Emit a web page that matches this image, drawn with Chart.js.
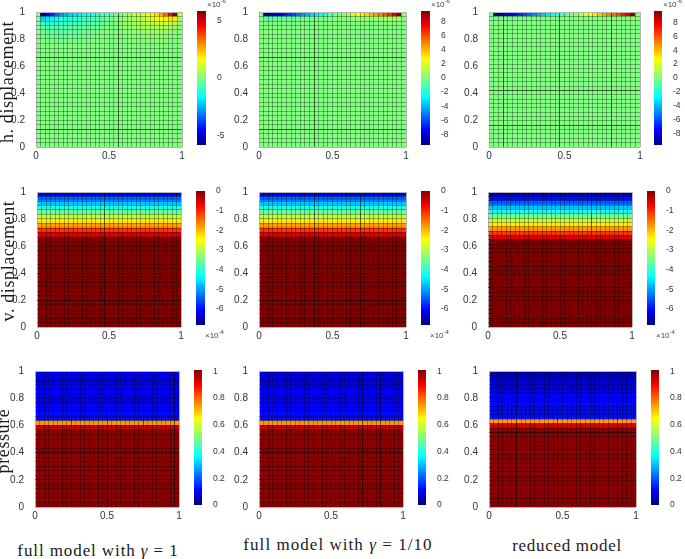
<!DOCTYPE html>
<html>
<head>
<meta charset="utf-8">
<title>Displacement and pressure fields</title>
<script src="https://cdn.jsdelivr.net/npm/chart.js@4"></script>
<style>
  html, body { margin: 0; background: #fff; }
  #page { position: relative; width: 685px; height: 559px; overflow: hidden; }
  canvas { position: absolute; filter: blur(0.35px); }
  .row-label, .caption { position: absolute; font-family: "Liberation Serif", serif; color: #1a1a1a; white-space: nowrap; }
  .row-label { font-size: 18px; letter-spacing: 0.6px; transform: translate(-50%, -50%) rotate(-90deg); }
  .caption { font-size: 17px; letter-spacing: 0.9px; transform: translate(-50%, -50%); }
  .mult { position: absolute; font: 8px "Liberation Sans", sans-serif; color: #444; white-space: nowrap; }
  .mult sup { font-size: 6px; line-height: 0; }
</style>
</head>
<body>
<div id="page"></div>
<script>
// ─── Data ─────────────────────────────────────────────────────────────────────
const COLS = 32;
const yTicks = [0, 0.2, 0.4, 0.6, 0.8, 1];
const xTicks = [0, 0.5, 1];

// h. displacement, top rows only (x 1e-6), everything below is 0
const hFullA = [
  [0.3,-5.8,-5,-4.2,-3.4,-2.9,-2.5,-2.2,-2,-1.8,-1.6,-1.4,-1.2,-1,-0.8,-0.6,-0.4,-0.2,0,0.3,0.5,0.7,0.9,1.2,1.4,1.7,2,2.6,3.4,4.4,5.8,0.9],
  [0,-2.2,-1.9,-1.7,-1.5,-1.4,-1.3,-1.2,-1.1,-1,-0.9,-0.8,-0.7,-0.6,-0.5,-0.3,-0.2,0,0.1,0.2,0.4,0.5,0.6,0.8,1,1.2,1.4,1.6,1.8,2,1.9,0.5],
  [0,-0.9,-1,-1,-1,-0.9,-0.9,-0.8,-0.8,-0.7,-0.6,-0.6,-0.5,-0.4,-0.3,-0.2,-0.1,0,0.1,0.2,0.3,0.4,0.5,0.6,0.7,0.8,0.9,1,1,0.9,0.7,0.2],
  [0,-0.4,-0.6,-0.7,-0.7,-0.7,-0.6,-0.6,-0.5,-0.5,-0.4,-0.4,-0.3,-0.3,-0.2,-0.1,0,0,0.1,0.2,0.2,0.3,0.4,0.4,0.5,0.6,0.6,0.6,0.5,0.5,0.3,0.1],
  [0,-0.2,-0.3,-0.4,-0.5,-0.5,-0.4,-0.4,-0.4,-0.3,-0.3,-0.2,-0.2,-0.1,-0.1,0,0,0,0.1,0.1,0.2,0.2,0.2,0.3,0.3,0.4,0.4,0.4,0.3,0.2,0.1,0],
  [0,-0.1,-0.2,-0.2,-0.3,-0.3,-0.3,-0.2,-0.2,-0.2,-0.2,-0.1,-0.1,-0.1,0,0,0,0,0,0.1,0.1,0.1,0.1,0.2,0.2,0.2,0.2,0.2,0.2,0.1,0.1,0],
  [0,0,-0.1,-0.1,-0.1,-0.2,-0.1,-0.1,-0.1,-0.1,-0.1,-0.1,0,0,0,0,0,0,0,0,0.1,0.1,0.1,0.1,0.1,0.1,0.1,0.1,0.1,0.1,0,0]
];
const hFullB = [
  [0,-9.3,-8.8,-8.3,-7.8,-7.2,-6.6,-6,-5.3,-4.7,-4.1,-3.5,-3,-2.5,-1.8,-1,-0.5,0,0.5,1,1.8,2.4,3,3.5,4,4.6,5.1,5.8,6.6,7.6,9.3,0],
  [0,-0.9,-0.8,-0.8,-0.7,-0.7,-0.6,-0.6,-0.5,-0.5,-0.4,-0.3,-0.3,-0.2,-0.2,-0.1,0,0,0.1,0.2,0.2,0.3,0.4,0.5,0.6,0.7,0.7,0.8,0.8,0.9,0.9,0.1]
];
const hReduced = [
  [0,-9.6,-9,-8.5,-8,-7.4,-6.8,-6.2,-5.6,-5,-4.4,-3.8,-3.2,-2.6,-2,-1.3,-0.7,0,0.6,1.2,1.9,2.6,3.2,3.8,4.4,5,5.6,6.2,7,8,9.6,0],
  [0,-0.3,-0.3,-0.3,-0.3,-0.2,-0.2,-0.2,-0.2,-0.2,-0.1,-0.1,-0.1,-0.1,0,0,0,0,0,0,0.1,0.1,0.1,0.1,0.2,0.2,0.2,0.2,0.2,0.3,0.3,0]
];

// v. displacement, one value per row from the top (x 1e-4), everything below is 0
const vFullA = [-6.12,-5.44,-4.76,-4.2,-3.6,-3,-2.3,-1.77,-1.09,-0.54];
const vFullB = [-6.2,-5.44,-4.76,-4.2,-3.6,-3,-2.3,-1.77,-1.09,-0.54];
const vReduced = [-6.55,-6,-5.46,-4.77,-4.23,-3.61,-3,-2.32,-1.77,-1.09,-0.55];

// pressure, one value per row from the top, everything below is 1
const pFullA = [0.09,0.09,0.09,0.1,0.1,0.1,0.1,0.11,0.11,0.12,0.12,0.75,0.95];
const pFullB = [0.07,0.08,0.09,0.09,0.1,0.1,0.11,0.11,0.11,0.12,0.12,0.75,0.95];
const pReduced = [0.03,0.05,0.07,0.09,0.1,0.11,0.11,0.12,0.12,0.12,0.12,0.74,0.93];

// colorbar ticks
const hTicksA = [-5, 0, 5];
const hTicksB = [-8, -6, -4, -2, 0, 2, 4, 6, 8];
const vTicks = [-6, -5, -4, -3, -2, -1, 0];
const pTicks = [0, 0.2, 0.4, 0.6, 0.8, 1];

// mesh lines that read darker in the picture
const darkRowsH = [0.667, 0.133];
const darkColsH = [0.5625];
const darkRowsRed = [0.4, 0.2];
const darkColsA = [0.25, 0.5, 0.75, 0.96875];
const darkColsB = [0.0938, 0.4688, 0.8125];
const darkRowsB = [0.42, 0.161];

const jetStops = [
  [0, 0, 0, 128], [0.11, 0, 0, 255], [0.36, 0, 255, 255], [0.5, 128, 255, 128],
  [0.64, 255, 255, 0], [0.89, 255, 0, 0], [1, 128, 0, 0]
];

// ─── Layout: plot box and colorbar box for each panel ─────────────────────────
const panels = [
  { rows: hFullA, rowCount: 30, rest: 0, range: [-5.83, 5.83], ticks: hTicksA, box: [36, 11, 146, 136], bar: [197, 206], darkRows: darkRowsH, darkCols: darkColsH },
  { rows: hFullB, rowCount: 30, rest: 0, range: [-9.49, 9.49], ticks: hTicksB, box: [259, 11, 147, 136], bar: [421, 430], darkRows: darkRowsH, darkCols: [0.375] },
  { rows: hReduced, rowCount: 31, rest: 0, range: [-9.66, 9.66], ticks: hTicksB, box: [489, 11, 151, 136], bar: [654, 662], darkRows: darkRowsB, darkCols: darkColsB },
  { rows: vFullA, rowCount: 30, rest: 0, range: [-6.82, 0], ticks: vTicks, box: [37, 191, 144, 136], bar: [196, 205], darkRows: darkRowsRed, darkCols: [0.47] },
  { rows: vFullB, rowCount: 30, rest: 0, range: [-6.82, 0], ticks: vTicks, box: [259, 191, 147, 136], bar: [421, 430], darkRows: darkRowsRed, darkCols: [0.375, 0.69] },
  { rows: vReduced, rowCount: 31, rest: 0, range: [-6.82, 0], ticks: vTicks, box: [488, 191, 144, 136], bar: [647, 655], darkRows: [0.29], darkCols: [0.72] },
  { rows: pFullA, rowCount: 30, rest: 1, range: [0, 1.01], ticks: pTicks, box: [35, 370, 144, 137], bar: [194, 202], darkRows: darkRowsRed, darkCols: darkColsA },
  { rows: pFullB, rowCount: 30, rest: 1, range: [0, 1.01], ticks: pTicks, box: [259, 370, 144, 137], bar: [418, 426], darkRows: darkRowsRed, darkCols: [0.72, 0.84] },
  { rows: pReduced, rowCount: 31, rest: 1, range: [0, 1.01], ticks: pTicks, box: [489, 370, 147, 137], bar: [651, 659], darkRows: [0.55, 0.29], darkCols: [0.19, 0.47, 0.875] }
];

const rowLabels = [
  ['h. displacement', 7, 82],
  ['v. displacement', 8, 261],
  ['pressure', 3, 441]
];
const multipliers = [
  ['-6', 207, 0], ['-6', 431, 0], ['-6', 663, 0],
  ['-4', 205, 331], ['-4', 430, 331], ['-4', 656, 331]
];

const page = document.getElementById('page');
const TICK_FONT = { family: '"Liberation Sans", sans-serif', size: 10 };
const BAR_FONT = { family: '"Liberation Sans", sans-serif', size: 8.5 };

function jet(t) {
  t = Math.min(1, Math.max(0, t));
  for (let i = 1; i < jetStops.length; i++) {
    const a = jetStops[i - 1], b = jetStops[i];
    if (t <= b[0]) {
      const f = (t - a[0]) / (b[0] - a[0]);
      return `rgb(${[1, 2, 3].map(k => Math.round(a[k] + (b[k] - a[k]) * f)).join(',')})`;
    }
  }
  return 'rgb(128,0,0)';
}

function addCanvas(x, y, w, h) {
  const c = document.createElement('canvas');
  c.width = w; c.height = h;
  c.style.left = x + 'px'; c.style.top = y + 'px';
  page.appendChild(c);
  return c.getContext('2d');
}

function rowValues(p, r) {
  const row = p.rows[r];
  if (Array.isArray(row)) return row;
  const v = row === undefined ? p.rest : row;
  return new Array(COLS).fill(v);
}

// frame is light grey, mesh is faint, a few lines darker
function gridColor(dark, spacing) {
  return ctx => {
    const v = ctx.tick.value;
    if (v < 0.001 || v > 0.999) return '#b4b4b4';
    return dark.some(d => Math.abs(d - v) < spacing / 2) ? 'rgba(0,0,0,0.6)' : 'rgba(0,0,0,0.3)';
  };
}

// ─── Field plot: one stacked bar dataset per row ──────────────────────────────
function drawField(p) {
  const [bx, by, bw, bh] = p.box;
  const [lo, hi] = p.range;
  const left = 30, top = 8, right = 8, bottom = 20;
  const xCenters = Array.from({ length: COLS }, (_, i) => (i + 0.5) / COLS);
  const datasets = [];
  for (let r = p.rowCount - 1; r >= 0; r--) {
    const vals = rowValues(p, r);
    datasets.push({
      stack: 'field',
      data: xCenters.map(x => ({ x, y: 1 / p.rowCount })),
      backgroundColor: vals.map(v => jet((v - lo) / (hi - lo))),
      barPercentage: 1,
      categoryPercentage: 1,
      borderWidth: 0
    });
  }
  new Chart(addCanvas(bx - left, by - top, bw + left + right, bh + top + bottom), {
    type: 'bar',
    data: { datasets },
    options: {
      responsive: false,
      animation: false,
      layout: { padding: { top, right } },
      plugins: { legend: { display: false }, tooltip: { enabled: false } },
      scales: {
        x: {
          type: 'linear', min: 0, max: 1, offset: false,
          grid: { offset: false, z: 1, color: gridColor(p.darkCols, 1 / COLS), drawTicks: false, lineWidth: 1 },
          border: { display: false },
          afterBuildTicks: s => { s.ticks = Array.from({ length: COLS + 1 }, (_, i) => ({ value: i / COLS })); },
          afterFit: s => { s.height = bottom; },
          ticks: {
            autoSkip: false, maxRotation: 0, padding: 3, color: '#333', font: TICK_FONT,
            callback: v => { const k = xTicks.find(t => Math.abs(t - v) < 1e-6); return k === undefined ? '' : String(k); }
          }
        },
        y: {
          type: 'linear', min: 0, max: 1, stacked: true,
          grid: { display: false },
          border: { display: false },
          afterBuildTicks: s => { s.ticks = yTicks.map(value => ({ value })); },
          afterFit: s => { s.width = left; },
          ticks: { autoSkip: false, padding: 3, color: '#333', font: TICK_FONT, callback: v => String(v) }
        },
        yCells: {
          type: 'linear', min: 0, max: 1, position: 'left',
          grid: { z: 1, color: gridColor(p.darkRows, 1 / p.rowCount), drawTicks: false, lineWidth: 1 },
          border: { display: false },
          afterBuildTicks: s => { s.ticks = Array.from({ length: p.rowCount + 1 }, (_, i) => ({ value: i / p.rowCount })); },
          afterFit: s => { s.width = 0; },
          ticks: { display: false }
        }
      }
    }
  });
}

// ─── Colorbar: single floating bar filled with the jet ramp ───────────────────
function drawColorbar(p) {
  const [x0, x1] = p.bar;
  const [, by, , bh] = p.box;
  const [lo, hi] = p.range;
  const top = 8, bottom = 6, right = 26;
  new Chart(addCanvas(x0, by - top, x1 - x0 + right, bh + top + bottom), {
    type: 'bar',
    data: {
      labels: [''],
      datasets: [{
        data: [[lo, hi]],
        barPercentage: 1,
        categoryPercentage: 1,
        borderWidth: 0,
        backgroundColor: ctx => {
          const area = ctx.chart.chartArea;
          if (!area) return '#000';
          const g = ctx.chart.ctx.createLinearGradient(0, area.bottom, 0, area.top);
          jetStops.forEach(s => g.addColorStop(s[0], `rgb(${s[1]},${s[2]},${s[3]})`));
          return g;
        }
      }]
    },
    options: {
      responsive: false,
      animation: false,
      layout: { padding: { top, bottom } },
      plugins: { legend: { display: false }, tooltip: { enabled: false } },
      scales: {
        x: { display: false },
        y: {
          position: 'right', min: lo, max: hi,
          grid: { display: false },
          border: { display: false },
          afterBuildTicks: s => { s.ticks = p.ticks.map(value => ({ value })); },
          afterFit: s => { s.width = right; },
          ticks: { autoSkip: false, padding: 3, color: '#333', font: BAR_FONT, callback: v => String(v) }
        }
      }
    }
  });
}

panels.forEach(p => { drawField(p); drawColorbar(p); });

// ─── Text around the panels ───────────────────────────────────────────────────
function addText(cls, html, x, y) {
  const el = document.createElement('div');
  el.className = cls;
  el.innerHTML = html;
  el.style.left = x + 'px'; el.style.top = y + 'px';
  page.appendChild(el);
  return el;
}

rowLabels.forEach(([t, x, y]) => addText('row-label', t, x, y));
multipliers.forEach(([e, x, y]) => addText('mult', `×10<sup>${e}</sup>`, x, y));
addText('caption', 'full model with <i>γ</i> = 1', 98, 551);
addText('caption', 'full model with <i>γ</i> = 1/10', 338, 545).style.letterSpacing = '1.05px';
addText('caption', 'reduced model', 567, 546).style.letterSpacing = '0.7px';
</script>
</body>
</html>
